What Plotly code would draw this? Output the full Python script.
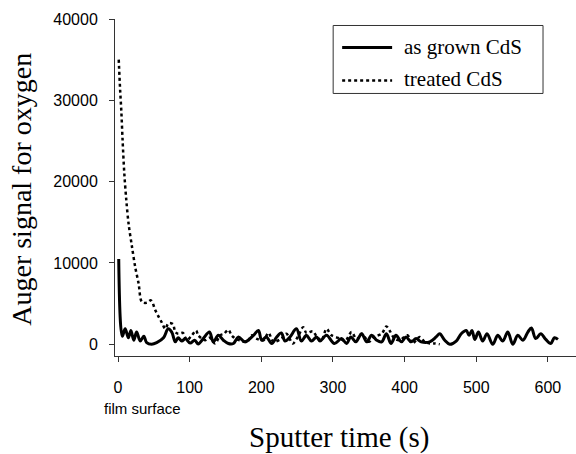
import plotly.graph_objects as go

# ---- data ----
grown_t = [1, 6, 10, 14.5, 18, 22, 26, 31, 36, 40, 47, 54, 63.5, 70, 75, 80, 84, 89, 94,
           100.7, 107, 112, 119, 127.6, 133, 140, 147, 154, 161, 168, 177, 189, 196, 200.5,
           207, 214.5, 221.5, 228, 233, 240, 249, 256, 263, 270, 277, 282, 291, 302, 312,
           319, 325, 332, 340, 347, 354, 361, 368, 374.6, 381, 388, 395.5, 402, 409, 416,
           423, 435, 444, 449, 456, 463, 472, 479, 486, 490, 494, 498, 503, 509, 515, 523,
           530, 537, 544, 551, 558, 565, 572, 577, 583, 590, 597, 604, 609, 614]
grown_v = [10500, 1000, 1900, 800, 1700, 500, 1500, 400, 1000, 200, 0, 200, 800, 1900, 1500,
           300, 800, 400, 700, 150, 500, 50, 700, 1500, 300, 1100, 500, 100, 100, 900, 300,
           1100, 1700, 500, 900, 100, 900, 1400, 400, 900, 1900, 400, 1100, 400, 900, 400,
           1100, 100, 700, 100, 900, 300, 1300, 300, 1100, 500, 300, 1300, 100, 1100, 300,
           900, 300, 700, 300, 300, 900, 1300, 500, 0, 400, 1300, 1700, 1100, 1700, 600,
           1500, 400, 1300, 0, 1100, 400, 1500, 0, 1100, 500, 1500, 2000, 700, 1300, 600,
           100, 800, 600]

treated_t = [1, 3, 4.6, 6.4, 8.8, 11.6, 14.8, 19.5, 24, 28.7, 33.4, 40, 46, 52, 56.6, 61, 66,
             70.5, 76.5, 80, 84, 90.5, 96, 103, 109, 112, 121.5, 128, 135.6, 142.5, 148, 154,
             158.6, 164, 170, 180, 187, 193, 203, 210, 217, 228, 235, 244, 251.5, 258.5, 263,
             272, 277, 284, 291, 298, 310, 317, 326, 333, 340, 350, 357, 368, 374.6, 379, 386,
             393, 404, 411, 421, 428, 435, 442, 449]
treated_v = [35000, 31200, 28700, 25100, 21000, 17700, 14800, 12000, 9500, 7500, 5200, 5100,
             5400, 4200, 3400, 2700, 1900, 2600, 2500, 1500, 1300, 1400, 500, 1100, 1700, 1100,
             500, 800, 100, 1100, 1300, 1800, 1100, 700, 500, 300, 1100, 700, 500, 1400, 300,
             700, 1300, 100, 1000, 2100, 1400, 1600, 1000, 500, 1900, 1100, 700, 400, 1500,
             600, 1300, 300, 900, 1300, 2200, 1700, 700, 500, 1100, 100, 900, 300, 100, 100, 0]

x_ticks = [0, 100, 200, 300, 400, 500, 600]
y_ticks = [0, 10000, 20000, 30000, 40000]
series_names = ["as grown CdS", "treated CdS"]

# ---- layout geometry (pixels) ----
W, H = 576, 454
ML, MR, MT, MB = 114.7, 0, 18.5, 98.3
PW = W - ML - MR
PH = H - MT - MB


def px(x):
    return (x - ML) / PW


def py(y):
    return (H - MB - y) / PH


fig = go.Figure()
fig.add_trace(go.Scatter(x=grown_t, y=grown_v, mode="lines", name=series_names[0],
                         line=dict(color="black", width=3, shape="spline", smoothing=1.0),
                         showlegend=False))
fig.add_trace(go.Scatter(x=treated_t, y=treated_v, mode="lines", name=series_names[1],
                         line=dict(color="black", width=2.5, dash="dot", shape="spline",
                                   smoothing=0.9),
                         showlegend=False))

sans = "Liberation Sans, Arial, sans-serif"
serif = "Liberation Serif, Times New Roman, serif"

fig.update_xaxes(range=[-4.2, 639.2], tickvals=x_ticks, ticktext=[str(v) for v in x_ticks],
                 showline=True, linecolor="#333", linewidth=1, mirror=False,
                 ticks="outside", ticklen=5, tickcolor="#333", showgrid=False, zeroline=False,
                 tickfont=dict(family=sans, size=16, color="black"), ticklabelstandoff=12,
                 automargin=False)
fig.update_yaxes(range=[-1440, 40000], tickvals=y_ticks, ticktext=[str(v) for v in y_ticks],
                 showline=True, linecolor="#333", linewidth=1, mirror=False,
                 ticks="outside", ticklen=5, tickcolor="#333", showgrid=False, zeroline=False,
                 tickfont=dict(family=sans, size=16, color="black"), ticklabelstandoff=8,
                 automargin=False)

annotations = [
    dict(text="film surface", xref="paper", yref="paper", x=px(102), y=py(408),
         xanchor="left", yanchor="middle", showarrow=False,
         font=dict(family=sans, size=15, color="black")),
    dict(text="Sputter time (s)", xref="paper", yref="paper", x=px(339), y=py(437),
         xanchor="center", yanchor="middle", showarrow=False,
         font=dict(family=serif, size=29, color="black")),
    dict(text="Auger signal for oxygen", xref="paper", yref="paper", x=px(21), y=py(189),
         xanchor="center", yanchor="middle", showarrow=False, textangle=-90,
         font=dict(family=serif, size=28, color="black")),
    dict(text=series_names[0], xref="paper", yref="paper", x=px(402), y=py(47),
         xanchor="left", yanchor="middle", showarrow=False,
         font=dict(family=serif, size=21, color="black")),
    dict(text=series_names[1], xref="paper", yref="paper", x=px(402), y=py(79),
         xanchor="left", yanchor="middle", showarrow=False,
         font=dict(family=serif, size=21, color="black")),
]

shapes = [
    dict(type="rect", xref="paper", yref="paper", x0=px(333), x1=px(543), y0=py(93), y1=py(25),
         line=dict(color="#333", width=1), fillcolor="white", layer="above"),
    dict(type="line", xref="paper", yref="paper", x0=px(342), x1=px(392), y0=py(47), y1=py(47),
         line=dict(color="black", width=3)),
    dict(type="line", xref="paper", yref="paper", x0=px(342), x1=px(392), y0=py(80), y1=py(80),
         line=dict(color="black", width=2.5, dash="dot")),
]

fig.update_layout(width=W, height=H, margin=dict(l=ML, r=MR, t=MT, b=MB, pad=0),
                  paper_bgcolor="white", plot_bgcolor="white", showlegend=False,
                  annotations=annotations, shapes=shapes)

fig.write_html("out.html", config={"displayModeBar": False},
               post_script="document.body.style.margin='0';document.body.style.padding='0';")
